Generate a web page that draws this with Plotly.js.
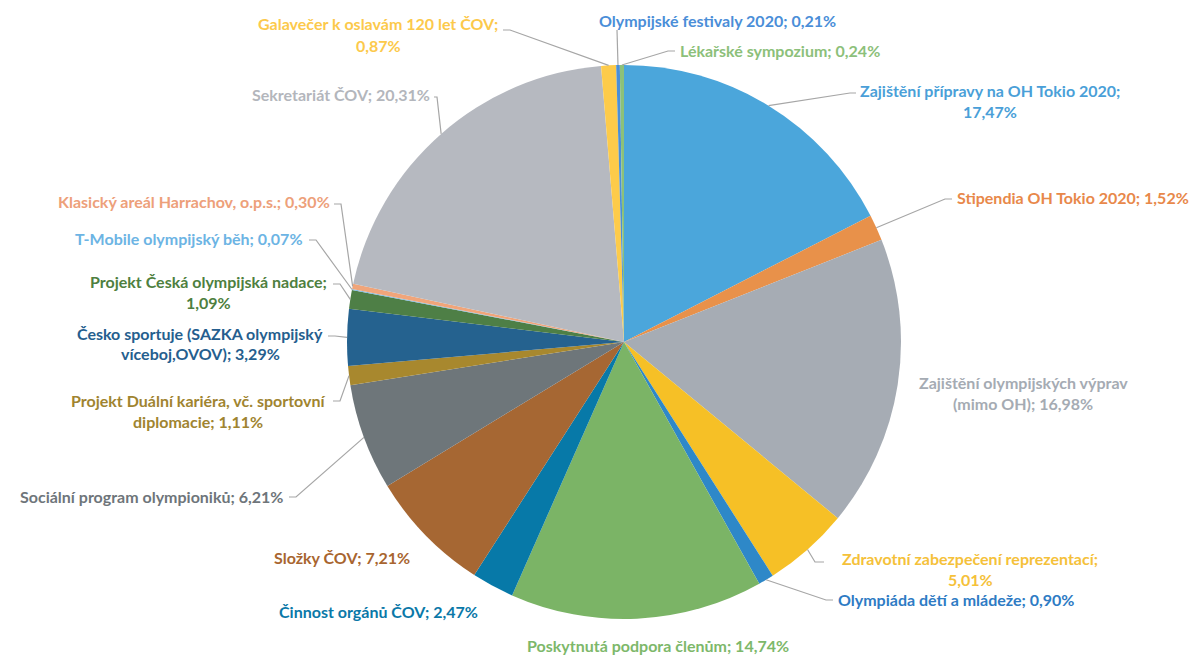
<!DOCTYPE html>
<html><head><meta charset="utf-8">
<script src="https://cdn.plot.ly/plotly-3.0.1.min.js"></script>
<style>html,body{margin:0;padding:0;background:#fff}</style>
</head><body><div id="chart" style="width:1189px;height:655px"></div>
<script>
const categories = [
  'Zajištění přípravy na OH Tokio 2020',
  'Stipendia OH Tokio 2020',
  'Zajištění olympijských výprav (mimo OH)',
  'Zdravotní zabezpečení reprezentací',
  'Olympiáda dětí a mládeže',
  'Poskytnutá podpora členům',
  'Činnost orgánů ČOV',
  'Složky ČOV',
  'Sociální program olympioniků',
  'Projekt Duální kariéra, vč. sportovní diplomacie',
  'Česko sportuje (SAZKA olympijský víceboj,OVOV)',
  'Projekt Česká olympijská nadace',
  'T-Mobile olympijský běh',
  'Klasický areál Harrachov, o.p.s.',
  'Sekretariát ČOV',
  'Galavečer k oslavám 120 let ČOV',
  'Olympijské festivaly 2020',
  'Lékařské sympozium'
];
const values = [17.47, 1.52, 16.98, 5.01, 0.90, 14.74, 2.47, 7.21, 6.21, 1.11, 3.29, 1.09, 0.07, 0.30, 20.31, 0.87, 0.21, 0.24];
const sliceColors = ['#4BA6DB','#E8914A','#A6ACB4','#F6C026','#2E88C8','#7BB466','#0779A8','#A66733','#6E767A','#A8882E','#25628F','#4E7F46','#7FBCE4','#F0A57A','#B6B9C0','#FDCB4A','#4A8FD8','#8CC179'];
const labelColors = ['#4A9FD8','#E8884A','#A5ABB3','#F5C13A','#2E7BC4','#7DB86A','#0A78A8','#A8652F','#6E757A','#A08430','#255E8E','#4E7F40','#6CB4E4','#EDA07A','#B3B6BC','#FCC94B','#4A8ED8','#8CC07A'];

// label placement (pixels): x,y of first line, anchor, break mode, leader elbow & end
const labelPlacement = [
  {x:990, y:90,  a:'center', br:'semi', elbow:[850,93], end:[856,93]},
  {x:955, y:198, a:'left', elbow:[945,199], end:[952,199]},
  {x:1023,y:382, a:'center', br:'(mimo'},
  {x:970, y:558, a:'center', br:'semi', elbow:[815,562], end:[824,562]},
  {x:836, y:599, a:'left', elbow:[826,600], end:[833,600]},
  {x:658, y:645, a:'center'},
  {x:378, y:611, a:'center'},
  {x:342, y:557, a:'center'},
  {x:285, y:497, a:'right', elbow:[296,497], end:[289,497]},
  {x:198, y:400, a:'center', br:'diplomacie', elbow:[340,401], end:[333,401]},
  {x:200, y:333, a:'center', br:'víceboj', elbow:[335,336], end:[328,336]},
  {x:208, y:281, a:'center', br:'semi', elbow:[340,284], end:[333,284]},
  {x:305, y:238, a:'right', elbow:[316,240], end:[309,240]},
  {x:332, y:201, a:'right', elbow:[341,204], end:[334,204]},
  {x:432, y:94,  a:'right', elbow:[437,97], end:[434,97]},
  {x:378, y:24,  a:'center', br:'semi', elbow:[510,30], end:[503,30]},
  {x:717, y:20,  a:'center', elbow:[617,30], end:[617,30]},
  {x:678, y:50,  a:'left', elbow:[668,51], end:[675,51]}
];

const W = 1189, H = 655, CX = 624, CY = 342, R = 277;
const LINE_H = 21;
const px = x => x / W, py = y => 1 - y / H;
const fmt = v => v.toFixed(2).replace('.', ',') + '%';

const total = values.reduce((a, b) => a + b, 0);
const annotations = [], shapes = [];
let cum = 0;
values.forEach((v, i) => {
  const mid = (cum + v / 2) / total * 2 * Math.PI;
  cum += v;
  const ex = CX + R * Math.sin(mid), ey = CY - R * Math.cos(mid);
  const p = labelPlacement[i];
  const name = categories[i], pct = fmt(v);
  let lines;
  if (p.br === 'semi') lines = [name + ';', pct];
  else if (p.br) {
    const k = name.indexOf(p.br);
    lines = [name.slice(0, k).trim(), name.slice(k) + '; ' + pct];
  } else lines = [name + '; ' + pct];
  lines.forEach((t, j) => {
    annotations.push({
      xref: 'paper', yref: 'paper', x: px(p.x), y: py(p.y + j * LINE_H),
      xanchor: p.a, yanchor: 'middle', showarrow: false, text: t,
      font: {family: 'Lato, "Open Sans", sans-serif', size: 16, weight: 'bold', color: labelColors[i]}
    });
  });
  if (p.elbow) {
    shapes.push({
      type: 'path', xref: 'paper', yref: 'paper',
      path: `M ${px(ex)} ${py(ey)} L ${px(p.elbow[0])} ${py(p.elbow[1])} L ${px(p.end[0])} ${py(p.end[1])}`,
      line: {color: '#A6A6A6', width: 1.2}
    });
  }
});

const data = [{
  type: 'pie', labels: categories, values: values, sort: false,
  direction: 'clockwise', rotation: 0, textinfo: 'none',
  marker: {colors: sliceColors, line: {width: 0}},
  domain: {x: [px(CX - R), px(CX + R)], y: [py(CY + R), py(CY - R)]},
  hoverinfo: 'label+percent', showlegend: false
}];

const layout = {
  width: W, height: H, margin: {l: 0, r: 0, t: 0, b: 0},
  paper_bgcolor: '#fff', plot_bgcolor: '#fff', showlegend: false,
  annotations: annotations, shapes: shapes
};
Plotly.newPlot('chart', data, layout, {displayModeBar: false, staticPlot: true});
</script></body></html>
